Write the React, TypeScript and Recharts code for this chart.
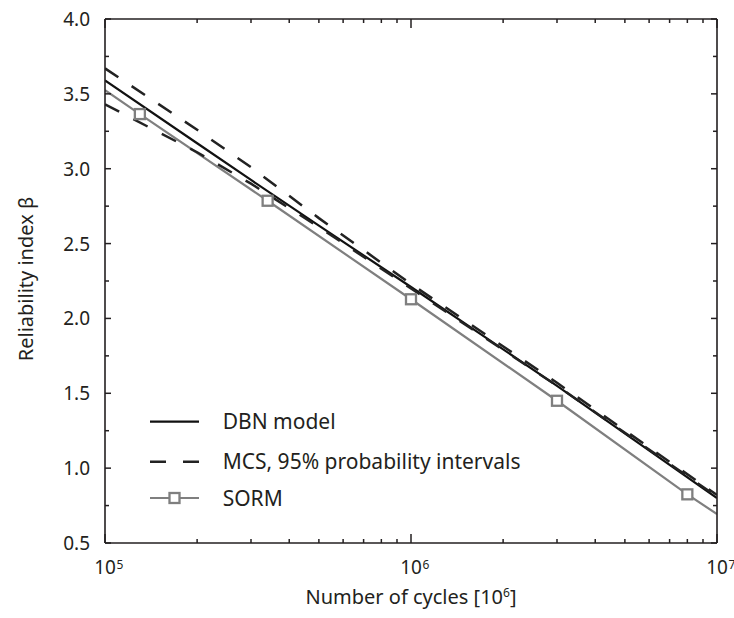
import React from 'react';
import { LineChart, Line, XAxis, YAxis, Legend } from 'recharts';

const dbnX = [1e5, 2e5, 3e5, 5e5, 1e6, 3e6, 1e7];
const dbnY = [3.59, 3.17, 2.925, 2.62, 2.21, 1.55, 0.8];

const mcsX = [1e5, 2e5, 3e5, 5e5, 1e6, 3e6, 1e7];
const mcsUpperY = [3.67, 3.26, 3.01, 2.67, 2.23, 1.57, 0.82];
const mcsLowerY = [3.43, 3.11, 2.9, 2.61, 2.2, 1.55, 0.81];

const sormX = [1e5, 1.3e5, 3.4e5, 1e6, 3e6, 8e6, 1e7];
const sormY = [3.525, 3.365, 2.786, 2.128, 1.45, 0.825, 0.693];
const sormMarked = [false, true, true, true, true, true, false];

const xMajorTicks = [1e5, 1e6, 1e7];
const xMajorExp = ['5', '6', '7'];
const xMinorTicks = [2e5, 3e5, 4e5, 5e5, 6e5, 7e5, 8e5, 9e5, 2e6, 3e6, 4e6, 5e6, 6e6, 7e6, 8e6, 9e6];
const yTicks = [0.5, 0.75, 1.0, 1.25, 1.5, 1.75, 2.0, 2.25, 2.5, 2.75, 3.0, 3.25, 3.5, 3.75, 4.0];

const legendLabels = ['DBN model', 'MCS, 95% probability intervals', 'SORM'];
const xTitle = 'Number of cycles [10';
const xTitleSup = '6';
const yTitle = 'Reliability index β';

const FONT = '"Noto Sans", sans-serif';
const TEXT = '#231f20';
const AXIS = '#231f20';
const BLACK = '#111111';
const DASH = '#222222';
const GRAY = '#7f7f7f';

const dbnData = dbnX.map((x, i) => ({ x, y: dbnY[i] }));
const upperData = mcsX.map((x, i) => ({ x, y: mcsUpperY[i] }));
const lowerData = mcsX.map((x, i) => ({ x, y: mcsLowerY[i] }));
const sormData = sormX.map((x, i) => ({ x, y: sormY[i], marker: sormMarked[i] }));
const xAllTicks = [...xMajorTicks, ...xMinorTicks].sort((a, b) => a - b);

const isMajorX = (v: number) => xMajorTicks.indexOf(v) >= 0;
const isMajorY = (v: number) => Math.abs(v * 2 - Math.round(v * 2)) < 1e-6;

const BottomTick = (props: any) => {
  const { x, y, payload } = props;
  const v = payload.value;
  const major = isMajorX(v);
  const len = major ? 9 : 4;
  const idx = xMajorTicks.indexOf(v);
  return (
    <g>
      <line x1={x} x2={x} y1={y} y2={y - len} stroke={AXIS} strokeWidth={1.5} />
      {major && (
        <g>
          <text x={x} y={y + 31} textAnchor="middle" fontFamily={FONT} fontSize={19} fill={TEXT}>10</text>
          <text x={x + 11.5} y={y + 26} textAnchor="start" fontFamily={FONT} fontSize={12} fill={TEXT}>{xMajorExp[idx]}</text>
        </g>
      )}
    </g>
  );
};

const TopTick = (props: any) => {
  const { x, y, payload } = props;
  const major = isMajorX(payload.value);
  const len = major ? 9 : 4;
  return <line x1={x} x2={x} y1={y} y2={y + len} stroke={AXIS} strokeWidth={1.5} />;
};

const LeftTick = (props: any) => {
  const { x, y, payload } = props;
  const v = payload.value;
  const major = isMajorY(v);
  const len = major ? 6 : 4;
  return (
    <g>
      <line x1={x} x2={x + len} y1={y} y2={y} stroke={AXIS} strokeWidth={1.5} />
      {major && (
        <text x={x - 15} y={y + 7} textAnchor="end" fontFamily={FONT} fontSize={19} fill={TEXT}>
          {v.toFixed(1)}
        </text>
      )}
    </g>
  );
};

const RightTick = (props: any) => {
  const { x, y, payload } = props;
  const major = isMajorY(payload.value);
  const len = major ? 6 : 4;
  return <line x1={x} x2={x - len} y1={y} y2={y} stroke={AXIS} strokeWidth={1.5} />;
};

const SormDot = (props: any) => {
  const { cx, cy, payload, index } = props;
  if (!payload || !payload.marker) return <g key={`sd-${index}`} />;
  return (
    <rect key={`sd-${index}`} x={cx - 5} y={cy - 5} width={10} height={10} fill="#ffffff" stroke={GRAY} strokeWidth={2.3} />
  );
};

const YTitle = (props: any) => {
  const vb = props.viewBox || { x: 0, y: 19, width: 105, height: 524 };
  const cx = 25;
  const cy = vb.y + vb.height / 2 - 2;
  return (
    <text x={cx} y={cy} transform={`rotate(-90, ${cx}, ${cy})`} textAnchor="middle" dominantBaseline="central" fontFamily={FONT} fontSize={20} fill={TEXT}>
      {yTitle}
    </text>
  );
};

const XTitle = (props: any) => {
  const vb = props.viewBox || { x: 105, y: 543, width: 612, height: 75 };
  const cx = vb.x + vb.width / 2;
  return (
    <text x={cx} y={604} textAnchor="middle" fontFamily={FONT} fontSize={20} fill={TEXT}>
      {xTitle}
      <tspan fontSize={12} dy={-7}>{xTitleSup}</tspan>
      <tspan dy={7}>]</tspan>
    </text>
  );
};

const LegendContent = () => {
  const rows = [21.7, 61.7, 98];
  return (
    <svg width={420} height={115} style={{ overflow: 'visible', display: 'block' }}>
      <line x1={10} x2={59} y1={rows[0]} y2={rows[0]} stroke={BLACK} strokeWidth={2.2} />
      <line x1={10} x2={59} y1={rows[1]} y2={rows[1]} stroke={DASH} strokeWidth={2.5} strokeDasharray="16 17" />
      <line x1={10} x2={59} y1={rows[2]} y2={rows[2]} stroke={GRAY} strokeWidth={2.2} />
      <rect x={29.5} y={rows[2] - 5} width={10} height={10} fill="#ffffff" stroke={GRAY} strokeWidth={2.3} />
      {legendLabels.map((t, i) => (
        <text key={t} x={82.7} y={rows[i] + 7.5} fontFamily={FONT} fontSize={21} fill={TEXT}>{t}</text>
      ))}
    </svg>
  );
};

export default function App() {
  return (
    <div style={{ position: 'absolute', left: 0, top: 0, width: 734, height: 618, background: '#ffffff' }}>
      <LineChart width={734} height={618} margin={{ top: 9, right: 7, bottom: 0, left: 0 }}>
        <XAxis
          xAxisId="bottom"
          dataKey="x"
          type="number"
          scale="log"
          domain={[1e5, 1e7]}
          allowDataOverflow
          ticks={xAllTicks}
          interval={0}
          tickSize={0}
          tickMargin={0}
          tickLine={false}
          tick={<BottomTick />}
          height={75}
          orientation="bottom"
          axisLine={{ stroke: AXIS, strokeWidth: 1.6 }}
          label={<XTitle />}
        />
        <XAxis
          xAxisId="top"
          dataKey="x"
          type="number"
          scale="log"
          domain={[1e5, 1e7]}
          allowDataOverflow
          ticks={xAllTicks}
          interval={0}
          tickSize={0}
          tickMargin={0}
          tickLine={false}
          tick={<TopTick />}
          height={10}
          orientation="top"
          axisLine={{ stroke: AXIS, strokeWidth: 1.6 }}
        />
        <YAxis
          yAxisId="left"
          type="number"
          domain={[0.5, 4]}
          allowDataOverflow
          ticks={yTicks}
          interval={0}
          tickSize={0}
          tickMargin={0}
          tickLine={false}
          tick={<LeftTick />}
          width={105}
          orientation="left"
          axisLine={{ stroke: AXIS, strokeWidth: 1.6 }}
          label={<YTitle />}
        />
        <YAxis
          yAxisId="right"
          type="number"
          domain={[0.5, 4]}
          allowDataOverflow
          ticks={yTicks}
          interval={0}
          tickSize={0}
          tickMargin={0}
          tickLine={false}
          tick={<RightTick />}
          width={10}
          orientation="right"
          axisLine={{ stroke: AXIS, strokeWidth: 1.6 }}
        />
        <Line
          xAxisId="bottom"
          yAxisId="left"
          data={sormData}
          dataKey="y"
          stroke={GRAY}
          strokeWidth={2.2}
          dot={SormDot}
          activeDot={false}
          isAnimationActive={false}
          name="SORM"
        />
        <Line
          xAxisId="bottom"
          yAxisId="left"
          data={dbnData}
          dataKey="y"
          stroke={BLACK}
          strokeWidth={2.2}
          dot={false}
          activeDot={false}
          isAnimationActive={false}
          name="DBN model"
        />
        <Line
          xAxisId="bottom"
          yAxisId="left"
          data={lowerData}
          dataKey="y"
          stroke={DASH}
          strokeWidth={2.5}
          strokeDasharray="16 16"
          dot={false}
          activeDot={false}
          isAnimationActive={false}
          name="MCS lower"
        />
        <Line
          xAxisId="bottom"
          yAxisId="left"
          data={upperData}
          dataKey="y"
          stroke={DASH}
          strokeWidth={2.5}
          strokeDasharray="16 16"
          dot={false}
          activeDot={false}
          isAnimationActive={false}
          name="MCS upper"
        />
        <Legend
          layout="vertical"
          align="center"
          verticalAlign="middle"
          content={<LegendContent />}
          wrapperStyle={{ left: 140, top: 400, width: 420, height: 115 }}
        />
      </LineChart>
    </div>
  );
}
